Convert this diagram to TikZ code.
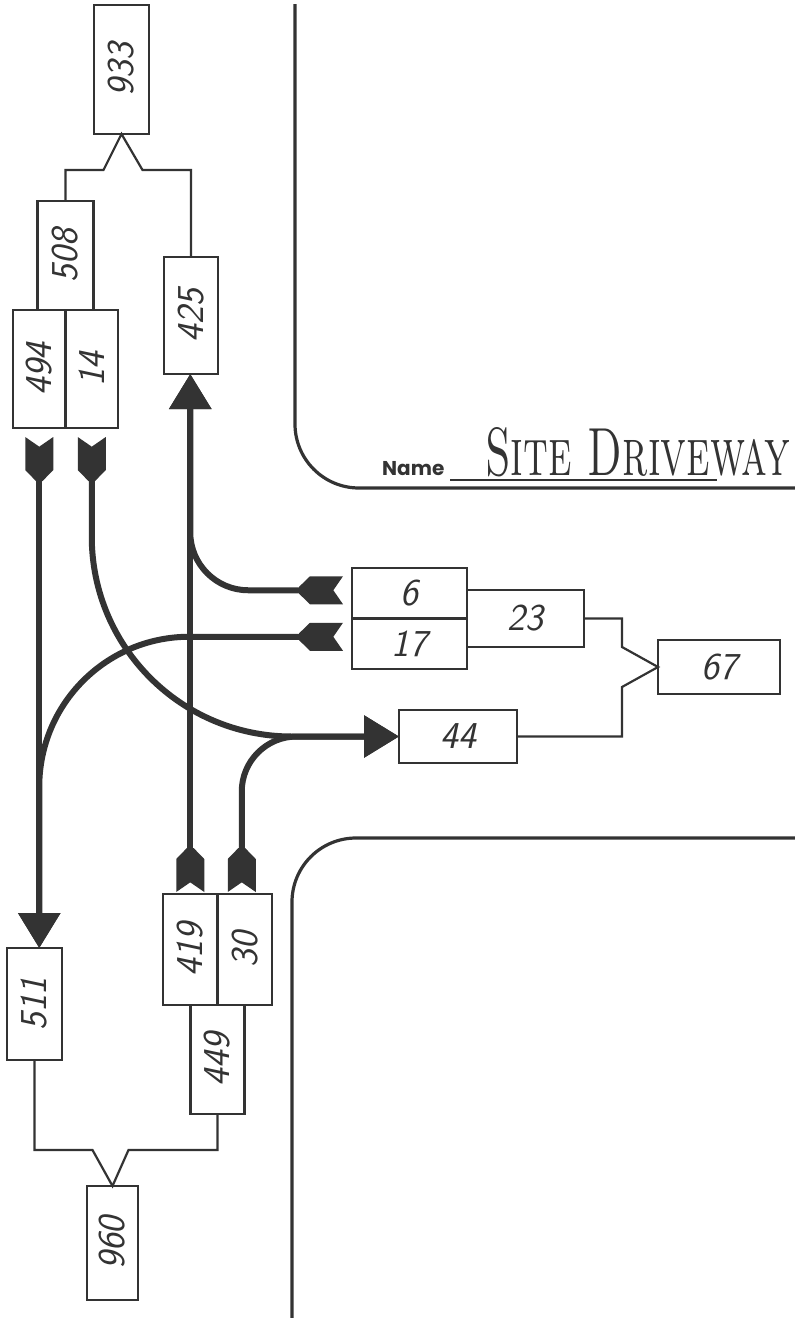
\documentclass[tikz,border=0pt]{standalone}
\usepackage{fontspec}
\usepackage{graphicx}
\newfontfamily\namefont{Poppins}
\usetikzlibrary{positioning,calc,arrows.meta}

\definecolor{ink}{gray}{0.2}

% feathered tail for the turning-movement arrows
\pgfdeclarearrow{
  name = Fletch,
  parameters = {\the\pgfarrowlength,\the\pgfarrowwidth},
  setup code = {
    \pgfarrowssettipend{0pt}
    \pgfarrowssetbackend{-\pgfarrowlength}
    \pgfarrowssetlineend{-0.9\pgfarrowlength}
    \pgfarrowssavethe\pgfarrowlength
    \pgfarrowssavethe\pgfarrowwidth
  },
  drawing code = {
    \pgfpathmoveto{\pgfqpoint{0pt}{0.5\pgfarrowwidth}}
    \pgfpathlineto{\pgfqpoint{-0.22\pgfarrowlength}{0pt}}
    \pgfpathlineto{\pgfqpoint{0pt}{-0.5\pgfarrowwidth}}
    \pgfpathlineto{\pgfqpoint{-0.75\pgfarrowlength}{-0.5\pgfarrowwidth}}
    \pgfpathlineto{\pgfqpoint{-\pgfarrowlength}{-0.12\pgfarrowwidth}}
    \pgfpathlineto{\pgfqpoint{-\pgfarrowlength}{0.12\pgfarrowwidth}}
    \pgfpathlineto{\pgfqpoint{-0.75\pgfarrowlength}{0.5\pgfarrowwidth}}
    \pgfpathclose
    \pgfusepathqfill
  },
  defaults = {length = 44pt, width = 28pt}
}

\begin{document}
\begin{tikzpicture}[
  x=1pt, y=-1pt,
  cell/.style={draw=ink, line width=2.4pt, inner sep=0pt, outer sep=0pt, text=ink,
    font=\fontsize{38}{40}\selectfont\sffamily\itshape},
  tie/.style={draw=ink, line width=2.2pt},
  move/.style={draw=ink, line width=6pt, arrows={Fletch[]-Triangle[length=35pt,width=41pt]}},
  curb/.style={draw=ink, line width=3.2pt, rounded corners=64pt}
]
\useasboundingbox (0,0) rectangle (795,1318);

% curb lines
\draw[curb] (295,4) |- (795,488);
\draw[curb] (292,1318) |- (795,838);

\node[anchor=base west, inner sep=0pt, text=ink, font={\fontsize{20}{22}\namefont\bfseries}] (namelbl) at (382,475) {Name};
\draw[tie] (450,480) -- (717,480);
\node[anchor=base west, inner sep=0pt, text=ink] (sitename) at (485,475)
  {\resizebox{305pt}{48pt}{\textsc{Site Driveway}}};

% north leg
\node[cell, minimum width=55pt, minimum height=129pt] (n933) at (121.5,69.5) {\rotatebox{90}{933}};
\node[cell, minimum width=52.5pt, minimum height=118pt] (n494) at (39.25,369) {\rotatebox{90}{494}};
\node[cell, minimum width=52.5pt, minimum height=118pt, right=0pt of n494] (n14) {\rotatebox{90}{14}};
\node[cell, minimum width=56pt, minimum height=109pt, above=0pt of n494.north east] (n508) {\rotatebox{90}{508}};
\node[cell, minimum width=54pt, minimum height=117pt] (n425) at (191,315.5) {\rotatebox{90}{425}};

% east leg
\node[cell, minimum width=115pt, minimum height=50.5pt] (n6) at (409.5,593.25) {6};
\node[cell, minimum width=115pt, minimum height=50.5pt, below=0pt of n6] (n17) {17};
\node[cell, minimum width=117pt, minimum height=57pt, right=0pt of n6.south east] (n23) {23};
\node[cell, minimum width=118pt, minimum height=53pt] (n44) at (458,736.5) {44};
\node[cell, minimum width=122pt, minimum height=54pt] (n67) at (719,667) {67};

% south leg
\node[cell, minimum width=54.5pt, minimum height=111pt] (n419) at (190.25,949.5) {\rotatebox{90}{419}};
\node[cell, minimum width=54.5pt, minimum height=111pt, right=0pt of n419] (n30) {\rotatebox{90}{30}};
\node[cell, minimum width=54pt, minimum height=109pt, below=0pt of n419.south east] (n449) {\rotatebox{90}{449}};
\node[cell, minimum width=55pt, minimum height=112pt] (n511) at (34.5,1004) {\rotatebox{90}{511}};
\node[cell, minimum width=51pt, minimum height=114pt] (n960) at (112.5,1243) {\rotatebox{90}{960}};

% totals
\draw[tie] (n508.north) |- ($(n933.south)+(-18,36)$) -- (n933.south) -- ($(n933.south)+(21,36)$) -| (n425.north);
\draw[tie] (n511.south) |- ($(n960.north)+(-20,-36)$) -- (n960.north) -- ($(n960.north)+(16,-36)$) -| (n449.south);
\draw[tie] (n23.east) -| ($(n67.west)+(-36,-20)$) -- (n67.west) -- ($(n67.west)+(-36,20)$) |- (n44.east);

% movements
\coordinate (sbend) at (n494.south |- n511.north);
\coordinate (nbend) at (n419.north |- n425.south);
\draw[move] ($(n494.south)+(0,9)$) -- (sbend);
\draw[move, rounded corners=200pt] ($(n14.south)+(0,9)$) |- (n44.west);
\draw[move, rounded corners=150pt] ($(n17.west)+(-9,-7)$) -| (sbend);
\draw[move] ($(n419.north)+(0,-2)$) -- (nbend);
\draw[move, rounded corners=58pt] ($(n6.west)+(-9,-3)$) -| (nbend);
\draw[move, rounded corners=55pt] ($(n30.north)+(-3,-2)$) |- (n44.west);

\end{tikzpicture}
\end{document}
